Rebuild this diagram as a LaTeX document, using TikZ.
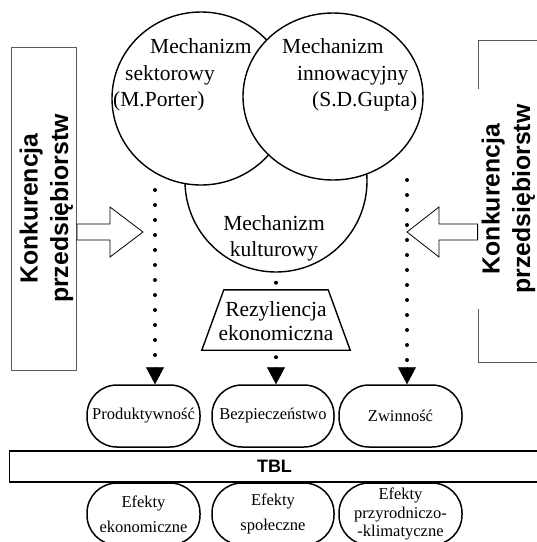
\documentclass[tikz,border=0pt]{standalone}
\usepackage{fontspec}
\setmainfont{Liberation Serif}
\setsansfont{Liberation Sans}
\usetikzlibrary{shapes.geometric,arrows.meta}
\tikzset{
  mech/.style={ellipse, draw, fill=white, line width=1.4pt, inner sep=0pt},
  lbl/.style={font=\fontsize{21.5}{26.5}\selectfont, inner sep=0pt},
  stad/.style={draw, fill=white, line width=1.5pt, rounded corners=30pt, minimum height=62pt, inner sep=0pt, align=center, font=\fontsize{16.5}{20}\selectfont},
  konk/.style={font=\sffamily\bfseries\fontsize{24.8}{30.5}\selectfont, rotate=90, align=center, inner sep=0pt},
  sidebox/.style={draw=black!65, line width=0.8pt},
  hollow/.style={draw, fill=white, line width=0.8pt},
  dotln/.style={line width=4pt, line cap=round, dash pattern=on 0pt off 15pt},
  tiphead/.style={line width=0.5pt, -{Triangle[width=18pt,length=17pt]}}
}
\begin{document}
\begin{tikzpicture}[x=1pt,y=-1pt]
\useasboundingbox (0,0) rectangle (537,542);
% side boxes
\node[sidebox, minimum width=65pt, minimum height=323pt, inner sep=0pt] (lbox) at (44,208.5) {};
\node[sidebox, minimum width=82pt, minimum height=322pt, inner sep=0pt] (rbox) at (519,201) {};
\node[konk] (ltxt) at (46.5,208.5) {Konkurencja\\przedsiębiorstw};
\node[konk, fill=white, inner xsep=15.5pt, inner ysep=6pt] (rtxt) at (508.5,199) {Konkurencja\\przedsiębiorstw};
% mechanisms
\node[mech, minimum width=182pt, minimum height=182pt] (kult) at (276,181) {};
\node[mech, minimum width=178pt, minimum height=173pt] (sek) at (201,98.5) {};
\node[mech, minimum width=180pt, minimum height=167pt] (inn) at (333,96.5) {};
\node[lbl, anchor=base west] (s1) at (150,53) {Mechanizm};
\node[lbl, anchor=base west] (s2) at (125,80) {sektorowy};
\node[lbl, anchor=base west] (s3) at (113,106) {(M.Porter)};
\node[lbl, anchor=base west] (i1) at (282,53) {Mechanizm};
\node[lbl, anchor=base west] (i2) at (297,80) {innowacyjny};
\node[lbl, anchor=base west] (i3) at (312,106) {(S.D.Gupta)};
\node[lbl, anchor=base] (k1) at (274,230) {Mechanizm};
\node[lbl, anchor=base] (k2) at (274,256) {kulturowy};
% resilience
\node[minimum width=104pt, minimum height=60pt, inner sep=0pt] (trap) at (276,320) {};
\draw[line width=1.4pt] (trap.north west) -- (trap.north east) -- ([xshift=22pt]trap.south east) -- ([xshift=-22pt]trap.south west) -- cycle;
\node[lbl, anchor=base] (r1) at (276,316) {Rezyliencja};
\node[lbl, anchor=base] (r2) at (276,340) {ekonomiczna};
% outcomes
\node[stad, minimum width=113pt] (prod) at (143.5,416) {Produktywność};
\node[stad, minimum width=122pt] (bez) at (273,416) {Bezpieczeństwo};
\node[stad, minimum width=123pt] (zwin) at (400.5,416) {Zwinność};
% TBL
\node[draw, line width=1.2pt, minimum width=540pt, minimum height=31pt, inner sep=0pt, anchor=west] (tbl) at (9,466.5) {};
\node[font=\sffamily\bfseries\fontsize{18}{20}\selectfont, inner sep=0pt] (tbltxt) at (274.5,466.5) {TBL};
\node[stad, minimum width=113pt, font=\fontsize{16.5}{25}\selectfont] (e1) at (143.5,514) {Efekty\\ekonomiczne};
\node[stad, minimum width=122pt, font=\fontsize{16.5}{25}\selectfont] (e2) at (273,514) {Efekty\\społeczne};
\node[stad, minimum width=123pt, font=\fontsize{16.5}{18.5}\selectfont] (e3) at (400.5,514) {Efekty\\przyrodniczo-\\-klimatyczne};
% hollow arrows
\draw[hollow] (lbox.east |- 0,224) -- (110,224) -- (110,207) -- (143,232) -- (110,257) -- (110,240) -- (lbox.east |- 0,240) -- cycle;
\draw[hollow] (rbox.west |- 0,224) -- (439,224) -- (439,207) -- (407,232) -- (439,257) -- (439,240) -- (rbox.west |- 0,240) -- cycle;
% dotted connectors
\coordinate (ls) at (155,190);
\coordinate (lm) at (155,357);
\coordinate (la) at (155,367);
\draw[dotln] (ls) -- (lm);
\draw[tiphead] (la) -- (la |- prod.north);
\coordinate (rs) at (407,180);
\coordinate (rm) at (407,362);
\coordinate (ra) at (407,368);
\draw[dotln] (rs) -- (rm);
\draw[tiphead] (ra) -- (ra |- zwin.north);
\coordinate (ma) at (276,367);
\draw[dotln, shorten <=10pt] (kult.south) -- (trap.north);
\draw[dotln, shorten <=7pt] (trap.south) -- (ma);
\draw[tiphead] (ma) -- (ma |- bez.north);
\end{tikzpicture}
\end{document}
